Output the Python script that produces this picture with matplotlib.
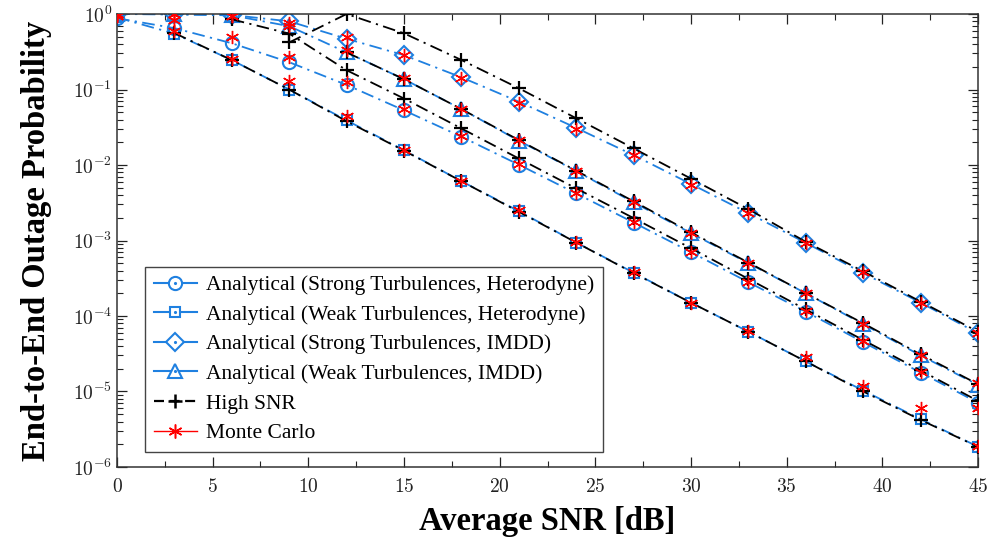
import numpy as np
import matplotlib
matplotlib.use("Agg")
import matplotlib.pyplot as plt
from matplotlib.lines import Line2D
from matplotlib.legend_handler import HandlerTuple
from matplotlib import ticker

plt.rcParams['mathtext.fontset'] = 'cm'

# Average SNR grid (dB)
snr = [0, 3, 6, 9, 12, 15, 18, 21, 24, 27, 30, 33, 36, 39, 42, 45]

# Analytical outage probability
strong_het = [0.88, 0.65, 0.41, 0.23, 0.115, 0.053, 0.0237, 0.0101, 0.0042, 0.00173,
              7.0e-4, 2.8e-4, 1.14e-4, 4.5e-5, 1.78e-5, 7.1e-6]
weak_het = [0.9, 0.55, 0.245, 0.1, 0.039, 0.0157, 0.0061, 0.00245, 9.4e-4, 3.75e-4,
            1.5e-4, 6.2e-5, 2.5e-5, 1.03e-5, 4.3e-6, 1.86e-6]
strong_imdd = [1.0, 0.99, 0.97, 0.8, 0.47, 0.285, 0.145, 0.069, 0.031, 0.0135,
               0.0056, 0.0023, 9.3e-4, 3.7e-4, 1.5e-4, 5.9e-5]
weak_imdd = [1.0, 0.99, 0.96, 0.69, 0.31, 0.137, 0.055, 0.021, 0.0083, 0.0032,
             1.25e-3, 5.0e-4, 2.0e-4, 7.8e-5, 3.0e-5, 1.22e-5]

# High SNR approximations (nan where above the plotted range)
nan = np.nan
hs_strong_het = [nan, nan, 0.85, 0.55, 0.18, 0.076, 0.0305, 0.0122, 0.0049, 0.00198,
                 7.9e-4, 3.1e-4, 1.22e-4, 4.8e-5, 1.9e-5, 7.5e-6]
hs_weak_het = [nan, 0.56, 0.245, 0.1, 0.038, 0.0155, 0.0061, 0.0024, 9.4e-4, 3.7e-4,
               1.5e-4, 6.2e-5, 2.5e-5, 1.0e-5, 4.2e-6, 1.85e-6]
hs_strong_imdd = [nan, nan, nan, 0.42, 1.0, 0.555, 0.246, 0.104, 0.0416, 0.0166,
                  0.0066, 0.0026, 9.6e-4, 3.9e-4, 1.55e-4, 6.2e-5]
hs_weak_imdd = [nan, nan, nan, nan, 0.31, 0.137, 0.055, 0.0214, 0.0084, 0.0033,
                1.28e-3, 5.1e-4, 2.0e-4, 8.0e-5, 3.1e-5, 1.25e-5]

# Monte Carlo simulation
mc_strong_het = [0.95, 0.83, 0.5, 0.27, 0.125, 0.055, 0.024, 0.0102, 0.0042, 0.00175,
                 7.0e-4, 2.8e-4, 1.15e-4, 4.6e-5, 1.8e-5, 6.0e-6]
mc_weak_het = [0.95, 0.6, 0.25, 0.13, 0.045, 0.016, 0.0062, 0.0025, 9.5e-4, 3.8e-4,
               1.5e-4, 6.3e-5, 2.9e-5, 1.2e-5, 6.0e-6, 1.9e-6]
mc_strong_imdd = [1.0, 1.0, 0.95, 0.75, 0.5, 0.29, 0.14, 0.067, 0.030, 0.0135,
                  0.0055, 0.0023, 9.3e-4, 3.8e-4, 1.5e-4, 6.0e-5]
mc_weak_imdd = [1.0, 1.0, 0.95, 0.7, 0.33, 0.14, 0.055, 0.0215, 0.0083, 0.0032,
                1.25e-3, 5.0e-4, 2.0e-4, 7.8e-5, 3.0e-5, 1.3e-5]

labels = ['Analytical (Strong Turbulences, Heterodyne)',
          'Analytical (Weak Turbulences, Heterodyne)',
          'Analytical (Strong Turbulences, IMDD)',
          'Analytical (Weak Turbulences, IMDD)',
          'High SNR', 'Monte Carlo']

blue = '#1f80e0'
dashdot = (0, (7, 3, 1.2, 3))

fig = plt.figure(figsize=(9.88, 5.39), dpi=100)
ax = fig.add_axes([0.1184, 0.1336, 0.8715, 0.8404])

analytical = [(strong_het, 'o', 9.5), (weak_het, 's', 6.5),
              (strong_imdd, 'D', 9.0), (weak_imdd, '^', 10.0)]
for vals, mk, ms in analytical:
    ax.plot(snr, vals, color=blue, linestyle=dashdot, linewidth=1.3, marker=mk,
            markersize=ms, markerfacecolor='none', markeredgecolor=blue,
            markeredgewidth=1.5, zorder=2)

for vals in [hs_strong_het, hs_weak_het, hs_strong_imdd, hs_weak_imdd]:
    ax.plot(snr, vals, color='black', linestyle=dashdot, linewidth=1.3, marker='+',
            markersize=10, markeredgewidth=1.6, zorder=3)

for vals in [mc_strong_het, mc_weak_het, mc_strong_imdd, mc_weak_imdd]:
    ax.plot(snr, vals, linestyle='none', marker=(6, 2, 0), markersize=9.5,
            color='red', markeredgewidth=1.0, zorder=4)

ax.set_yscale('log')
ax.set_xlim(0, 45)
ax.set_ylim(1e-6, 1)

ax.xaxis.set_major_locator(ticker.MultipleLocator(5))
ax.xaxis.set_minor_locator(ticker.MultipleLocator(2.5))
ax.xaxis.set_major_formatter(ticker.FuncFormatter(lambda v, p: r'$%d$' % v))
ax.yaxis.set_major_locator(ticker.LogLocator(base=10, numticks=10))
ax.yaxis.set_minor_locator(ticker.LogLocator(base=10, subs=np.arange(2, 10), numticks=20))
ax.yaxis.set_minor_formatter(ticker.NullFormatter())
ax.yaxis.set_major_formatter(ticker.FuncFormatter(lambda v, p: r'$10^{%d}$' % round(np.log10(v))))

ax.tick_params(which='both', direction='in', top=True, right=True, labelsize=14, colors='#222222')
ax.tick_params(which='major', length=7, width=0.9)
ax.tick_params(which='minor', length=4, width=0.8)
ax.tick_params(axis='x', pad=7)
for s in ax.spines.values():
    s.set_color('#333333')
    s.set_linewidth(1.1)

ax.set_xlabel('Average SNR [dB]', fontsize=23.5, fontweight='bold',
              family='Liberation Serif', va='center')
ax.set_ylabel('End-to-End Outage Probability', fontsize=23.5, fontweight='bold',
              family='Liberation Serif', va='center')
ax.xaxis.set_label_coords(0.5, -0.121)
ax.yaxis.set_label_coords(-0.093, 0.5)

# legend proxies: markers carry a centre dot, analytical handles drawn solid
handles = []
for _, mk, ms in analytical:
    h = Line2D([], [], color=blue, linestyle='-', linewidth=1.5, marker=mk, markersize=ms,
               markerfacecolor='white', markeredgecolor=blue, markeredgewidth=1.5)
    dot = Line2D([], [], linestyle='none', marker='.', markersize=2.5, color=blue)
    handles.append((h, dot))
handles.append(Line2D([], [], color='black', linestyle=(0, (4.5, 2.5)), linewidth=1.6,
                      marker='+', markersize=10, markeredgewidth=1.8))
handles.append(Line2D([], [], color='red', linestyle='-', linewidth=1.0,
                      marker=(6, 2, 0), markersize=10, markeredgewidth=1.1))

leg = ax.legend(handles, labels, loc='lower left', bbox_to_anchor=(0.02, 0.01),
                handler_map={tuple: HandlerTuple(ndivide=1)},
                prop={'family': 'Liberation Serif', 'size': 15.5},
                handlelength=2.0, handletextpad=0.45, labelspacing=0.44,
                borderpad=0.4, fancybox=False, framealpha=1, edgecolor='#444444')
leg.get_frame().set_linewidth(1.0)

fig.savefig('out.png', dpi=100)
